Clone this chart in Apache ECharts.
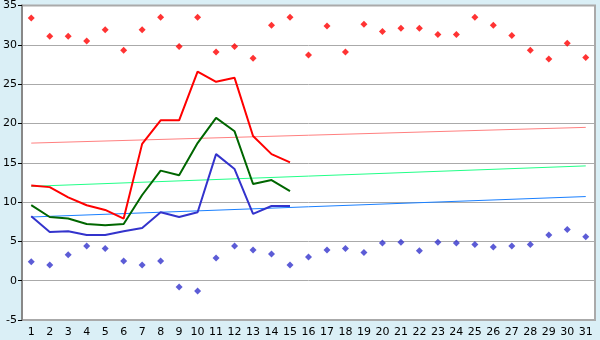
<!DOCTYPE html>
<html>
<head>
<meta charset="utf-8">
<script src="https://cdn.jsdelivr.net/npm/echarts@6/dist/echarts.min.js"></script>
<style>
  html, body { margin: 0; padding: 0; background: #daeff6; }
  #chart { width: 600px; height: 340px; }
</style>
</head>
<body>
<div id="chart"></div>
<script>
// 日期 1..31
const days = ['1','2','3','4','5','6','7','8','9','10','11','12','13','14','15','16',
  '17','18','19','20','21','22','23','24','25','26','27','28','29','30','31'];

// 最高 / 最低 散点
const highPts = [33.4, 31.1, 31.1, 30.5, 31.9, 29.3, 31.9, 33.5, 29.8, 33.5, 29.1, 29.8, 28.3, 32.5, 33.5,
  28.7, 32.4, 29.1, 32.6, 31.7, 32.1, 32.1, 31.3, 31.3, 33.5, 32.5, 31.2, 29.3, 28.2, 30.2, 28.4];
const lowPts = [2.4, 2.0, 3.3, 4.4, 4.1, 2.5, 2.0, 2.5, -0.8, -1.3, 2.9, 4.4, 3.9, 3.4, 2.0,
  3.0, 3.9, 4.1, 3.6, 4.8, 4.9, 3.8, 4.9, 4.8, 4.6, 4.3, 4.4, 4.6, 5.8, 6.5, 5.6];

// 折线（前 15 天）
const redLine = [12.1, 11.9, 10.6, 9.6, 9.0, 7.9, 17.4, 20.4, 20.4, 26.6, 25.3, 25.8, 18.4, 16.1, 15.05];
const greenLine = [9.6, 8.1, 7.9, 7.2, 7.05, 7.2, 10.9, 14.0, 13.4, 17.5, 20.7, 19.0, 12.3, 12.8, 11.4];
const blueLine = [8.2, 6.2, 6.3, 5.8, 5.8, 6.3, 6.7, 8.7, 8.1, 8.7, 16.1, 14.2, 8.5, 9.5, 9.5];

// 趋势线（首尾两点）
const redTrend = [17.5, 19.5];
const greenTrend = [12.0, 14.6];
const blueTrend = [8.1, 10.7];

const chart = echarts.init(document.getElementById('chart'));

function trend(vals, color) {
  return {
    type: 'line',
    data: [[days[0], vals[0]], [days[days.length - 1], vals[1]]],
    symbol: 'none',
    lineStyle: { color: color, width: 1 },
    silent: true,
    z: 1
  };
}

function line(vals, color) {
  return {
    type: 'line',
    data: vals,
    symbol: 'none',
    lineStyle: { color: color, width: 2 },
    z: 3
  };
}

function dots(vals, color) {
  return {
    type: 'scatter',
    data: vals,
    symbol: 'diamond',
    symbolSize: 7,
    itemStyle: { color: color },
    z: 4
  };
}

chart.setOption({
  animation: false,
  backgroundColor: '#daeff6',
  grid: {
    left: 20, right: 5, top: 5, bottom: 20,
    show: true,
    backgroundColor: '#ffffff',
    borderColor: '#aaaaaa',
    borderWidth: 2
  },
  xAxis: {
    type: 'category',
    data: days,
    boundaryGap: true,
    axisLine: { show: false },
    axisTick: { alignWithLabel: true, length: 5, lineStyle: { color: '#000' } },
    axisLabel: { color: '#000', fontSize: 11, fontFamily: 'DejaVu Sans', margin: 7, interval: 0 }
  },
  yAxis: {
    type: 'value',
    min: -5, max: 35, interval: 5,
    axisLine: { show: true, lineStyle: { color: '#888', width: 2 } },
    axisTick: { show: true, length: 4, lineStyle: { color: '#000' } },
    axisLabel: { color: '#000', fontSize: 11, fontFamily: 'DejaVu Sans', margin: 5 },
    splitLine: { lineStyle: { color: '#aaaaaa', width: 1 } }
  },
  series: [
    trend(redTrend, '#ff8080'),
    trend(greenTrend, '#22ff88'),
    trend(blueTrend, '#1a80ff'),
    line(redLine, '#ff0000'),
    line(greenLine, '#006600'),
    line(blueLine, '#3333cc'),
    dots(highPts, '#ff0000'),
    dots(lowPts, '#3333cc')
  ]
});
</script>
</body>
</html>
